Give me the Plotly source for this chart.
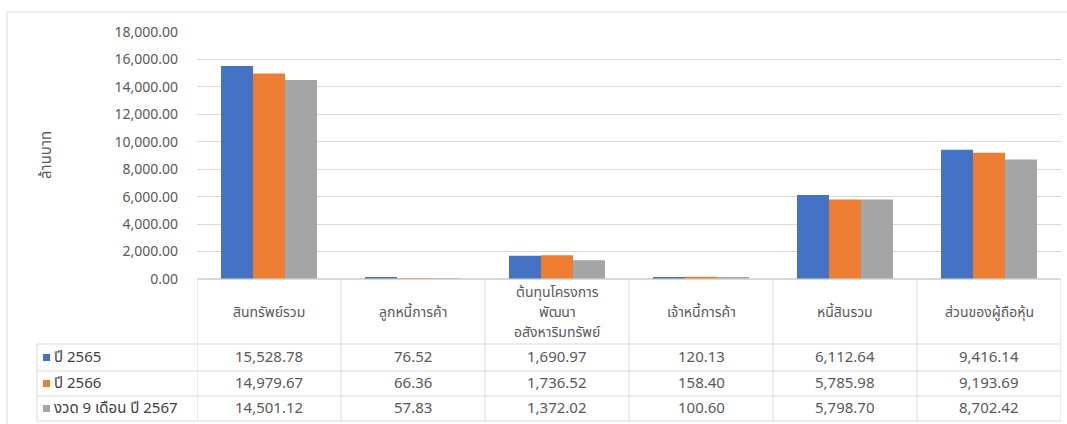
import plotly.graph_objects as go

categories = ["สินทรัพย์รวม", "ลูกหนี้การค้า", "ต้นทุนโครงการ<br>พัฒนา<br>อสังหาริมทรัพย์",
              "เจ้าหนี้การค้า", "หนี้สินรวม", "ส่วนของผู้ถือหุ้น"]
series_names = ["ปี 2565", "ปี 2566", "งวด 9 เดือน ปี 2567"]
v2565 = [15528.78, 76.52, 1690.97, 120.13, 6112.64, 9416.14]
v2566 = [14979.67, 66.36, 1736.52, 158.40, 5785.98, 9193.69]
v2567 = [14501.12, 57.83, 1372.02, 100.60, 5798.70, 8702.42]
colors = ["#4472C4", "#ED7D31", "#A5A5A5"]
y_ticks = [0, 2000, 4000, 6000, 8000, 10000, 12000, 14000, 16000, 18000]
y_title = "ล้านบาท"

W, H = 1067, 424
L, R, T, B = 197, 6, 32, 145
pw, ph = W - L - R, H - T - B

def px(x):  # pixel x -> paper x
    return (x - L) / pw

def py(y):  # pixel y -> paper y
    return (H - B - y) / ph

FONT = "Tahoma, 'Noto Sans Thai', 'Noto Sans', sans-serif"
grid = "#D9D9D9"
xs = list(range(len(categories)))

fig = go.Figure()
for name, vals, c in zip(series_names, [v2565, v2566, v2567], colors):
    fig.add_trace(go.Bar(x=xs, y=vals, name=name, marker=dict(color=c, line=dict(width=0)),
                         showlegend=False))

shapes = []
annotations = []
line = dict(color=grid, width=1)

# outer border
shapes.append(dict(type="rect", xref="paper", yref="paper", x0=px(7), x1=px(1070),
                   y0=py(430), y1=py(12), line=dict(color="#D9D9D9", width=1)))

row_y = [279, 344, 371, 396, 421]
# horizontal table lines
shapes.append(dict(type="line", xref="paper", yref="paper", x0=0, x1=1, y0=py(279), y1=py(279), line=line))
for yy in row_y[1:]:
    shapes.append(dict(type="line", xref="paper", yref="paper", x0=px(37), x1=1, y0=py(yy), y1=py(yy), line=line))
# vertical lines
shapes.append(dict(type="line", xref="paper", yref="paper", x0=px(37), x1=px(37), y0=py(344), y1=py(421), line=line))
for i in range(len(categories) + 1):
    shapes.append(dict(type="line", xref="x", yref="paper", x0=i - 0.5, x1=i - 0.5,
                       y0=py(279), y1=py(421), line=line))

# header texts (multi-line headers drawn line by line)
for i, cat in enumerate(categories):
    parts = cat.split("<br>")
    n = len(parts)
    for k, part in enumerate(parts):
        yc = 312 + (k - (n - 1) / 2) * 20
        annotations.append(dict(x=i, y=py(yc), xref="x", yref="paper", text=part, showarrow=False,
                                font=dict(family=FONT, size=14, color="#595959"), align="center",
                                yanchor="middle"))
# values
for r, vals in enumerate([v2565, v2566, v2567]):
    yc = (row_y[r + 1] + row_y[r + 2]) / 2
    for i, v in enumerate(vals):
        annotations.append(dict(x=i, y=py(yc), xref="x", yref="paper", text=f"{v:,.2f}",
                                showarrow=False, font=dict(family=FONT, size=15, color="#595959"),
                                yanchor="middle"))
    # legend key + label
    shapes.append(dict(type="rect", xref="paper", yref="paper", x0=px(43), x1=px(50),
                       y0=py(yc + 3.5), y1=py(yc - 3.5), fillcolor=colors[r], line=dict(width=0)))
    annotations.append(dict(x=px(52), y=py(yc), xref="paper", yref="paper", text=series_names[r],
                            showarrow=False, xanchor="left", yanchor="middle",
                            font=dict(family=FONT, size=15, color="#404040")))

# y-axis title
annotations.append(dict(x=px(46), y=py(155), xref="paper", yref="paper", text=y_title,
                        showarrow=False, textangle=-90, xanchor="center", yanchor="middle",
                        font=dict(family=FONT, size=15, color="#595959")))

fig.update_layout(
    width=W, height=H,
    margin=dict(l=L, r=R, t=T, b=B),
    paper_bgcolor="white", plot_bgcolor="white",
    barmode="group", bargap=0.333, bargroupgap=0,
    shapes=shapes, annotations=annotations,
    font=dict(family=FONT, size=14, color="#595959"),
    xaxis=dict(range=[-0.5, len(categories) - 0.5], showticklabels=False, showgrid=False,
               zeroline=False, showline=False, ticks=""),
    yaxis=dict(range=[0, 18000], tickvals=y_ticks, tickformat=",.2f", showgrid=True,
               gridcolor=grid, gridwidth=1, zeroline=True, zerolinecolor=grid, showline=False,
               ticks="", ticklabelstandoff=18,
               tickfont=dict(family=FONT, size=14, color="#595959")),
)

fig.write_html("out.html", config={"displayModeBar": False},
               post_script="document.body.style.margin='0';document.body.style.overflow='hidden';")
